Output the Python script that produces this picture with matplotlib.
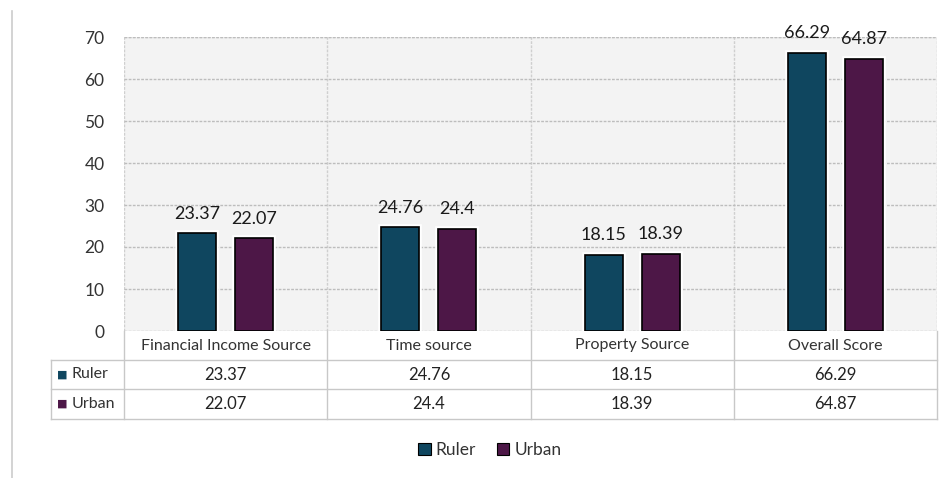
import matplotlib
matplotlib.use("Agg")
import matplotlib.pyplot as plt
import matplotlib.patheffects as pe
from matplotlib.lines import Line2D
from matplotlib.patches import Patch
import numpy as np

plt.rcParams['font.family'] = ['Lato', 'DejaVu Sans']

categories = ["Financial Income Source", "Time source", "Property Source", "Overall Score"]
series_names = ["Ruler", "Urban"]
ruler = [23.37, 24.76, 18.15, 66.29]
urban = [22.07, 24.4, 18.39, 64.87]
value_labels = {"Ruler": ["23.37", "24.76", "18.15", "66.29"],
                "Urban": ["22.07", "24.4", "18.39", "64.87"]}
colors = {"Ruler": "#0f465f", "Urban": "#4d1747"}
yticks = [0, 10, 20, 30, 40, 50, 60, 70]

W, H = 946, 478
fig = plt.figure(figsize=(W / 100, H / 100), dpi=100)
fig.patch.set_facecolor("white")

left, right, top, bottom = 124, 937, 37, 331
ax = fig.add_axes([left / W, 1 - bottom / H, (right - left) / W, (bottom - top) / H])
ax.set_facecolor("#f3f3f3")

x = np.arange(len(categories))
width = 0.187
offset = 0.14
for vals, name, sgn in [(ruler, "Ruler", -1), (urban, "Urban", 1)]:
    bars = ax.bar(x + sgn * offset, vals, width, color=colors[name],
                  edgecolor="black", linewidth=1.2, zorder=3)
    for b in bars:
        b.set_path_effects([pe.Stroke(linewidth=4, foreground="white"), pe.Normal()])
    for xi, v, lab in zip(x + sgn * offset, vals, value_labels[name]):
        ax.text(xi, v + 2.7, lab, ha="center", va="bottom", fontsize=13,
                color="#1a1a1a", zorder=4)

ax.set_xlim(-0.5, len(categories) - 0.5)
ax.set_ylim(0, 70)
ax.set_yticks(yticks)
ax.set_yticklabels([str(t) for t in yticks], fontsize=12.5, color="#333333")
ax.tick_params(axis="y", length=0, pad=14)
ax.set_xticks([])
ax.grid(axis="y", color="#bdbdbd", linestyle=(0, (2, 1)), linewidth=1.0, zorder=0)
for s in ax.spines.values():
    s.set_visible(False)

# category separators inside the plot area
for b in np.arange(-0.5, len(categories) + 0.5, 1.0):
    ax.axvline(b, color="#cfcfcf", linestyle=(0, (2, 1)), linewidth=1.0, zorder=1)
ax.axhline(70, color="#cfcfcf", linestyle=(0, (2, 1)), linewidth=1.0, zorder=1)

# data table below the axis
ah = bottom - top
row_y = [0, -(360 - bottom) / ah, -(389 - bottom) / ah, -(419 - bottom) / ah]
tr = ax.get_xaxis_transform()
line_kw = dict(color="#c8c8c8", linewidth=1.0, transform=tr, clip_on=False)
xl = -0.5 - (left - 51) / (right - left) * len(categories)
for yy in row_y[1:]:
    ax.add_line(Line2D([xl, len(categories) - 0.5], [yy, yy], **line_kw))
for b in np.arange(-0.5, len(categories) + 0.5, 1.0):
    ax.add_line(Line2D([b, b], [row_y[0], row_y[3]], **line_kw))
ax.add_line(Line2D([xl, xl], [row_y[1], row_y[3]], **line_kw))

for xi, c in zip(x, categories):
    ax.text(xi, (row_y[0] + row_y[1]) / 2, c, transform=tr, ha="center", va="center",
            fontsize=11.5, color="#333333", clip_on=False)
for r, name in enumerate(series_names):
    ymid = (row_y[r + 1] + row_y[r + 2]) / 2
    ax.text(xl + 0.03, ymid, "\u25a0", transform=tr, ha="left", va="center",
            fontsize=8, color=colors[name], family="DejaVu Sans", clip_on=False)
    ax.text(xl + 0.1, ymid, name, transform=tr, ha="left", va="center",
            fontsize=11.5, color="#333333", clip_on=False)
    for xi, lab in zip(x, value_labels[name]):
        ax.text(xi, ymid, lab, transform=tr, ha="center", va="center",
                fontsize=12, color="#222222", clip_on=False)

# thin frame line at the left of the image
fig.add_artist(Line2D([12 / W, 12 / W], [0, 1 - 11 / H], color="#cccccc",
                      linewidth=1.2, transform=fig.transFigure))

handles = [Patch(facecolor=colors[n], edgecolor="black", linewidth=0.8) for n in series_names]
fig.legend(handles, series_names, loc="center", bbox_to_anchor=(490 / W, 1 - 450 / H),
           ncol=2, frameon=False, fontsize=12.5, handlelength=0.7, handleheight=0.7,
           handletextpad=0.3, columnspacing=1.2, labelcolor="#333333")

fig.savefig("out.png", dpi=100)
